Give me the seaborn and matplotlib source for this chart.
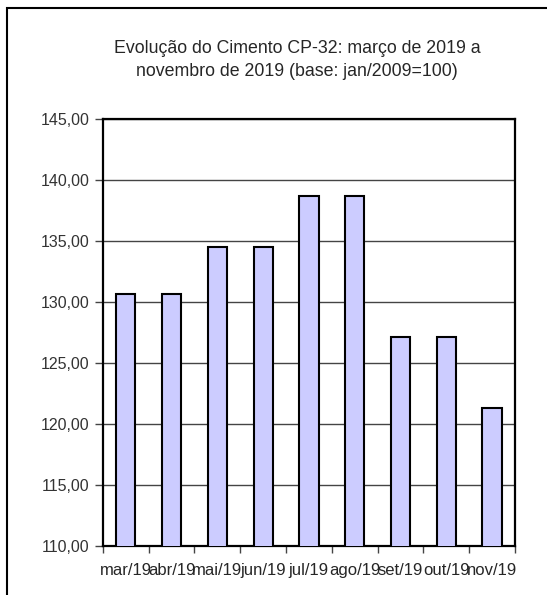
import matplotlib
matplotlib.use("Agg")
import matplotlib.pyplot as plt
import seaborn as sns
import pandas as pd
from matplotlib.patches import Rectangle
from matplotlib.ticker import FuncFormatter, FixedLocator

# dados
meses = ["mar/19", "abr/19", "mai/19", "jun/19", "jul/19", "ago/19", "set/19", "out/19", "nov/19"]
indice = [130.66, 130.66, 134.53, 134.53, 138.72, 138.72, 127.13, 127.13, 121.27]

df = pd.DataFrame({"mes": meses, "indice": indice})

sns.set_style("white")
plt.rcParams["font.family"] = ["Liberation Sans", "DejaVu Sans"]

fig = plt.figure(figsize=(5.47, 5.95), dpi=100)
ax = fig.add_axes([0.188, 0.0824, 0.7535, 0.7176])

sns.barplot(data=df, x="mes", y="indice", color="#CCCCFF", saturation=1,
            edgecolor="black", linewidth=1.5, width=0.42, ax=ax, zorder=3)

ax.set_ylim(110, 145)
ax.set_yticks([110, 115, 120, 125, 130, 135, 140, 145])
ax.yaxis.set_major_formatter(FuncFormatter(lambda v, p: f"{v:.2f}".replace(".", ",")))
ax.grid(axis="y", color="#444444", linewidth=1, zorder=0)
ax.set_axisbelow(True)
ax.set_xlim(-0.5, len(meses) - 0.5)

# ticks do eixo x nas divisas entre categorias
ax.xaxis.set_minor_locator(FixedLocator([i - 0.5 for i in range(len(meses) + 1)]))
ax.tick_params(axis="x", which="major", length=0, labelsize=12, pad=12)
ax.tick_params(axis="x", which="minor", length=5, width=1, color="#444444", direction="out", bottom=True)
ax.tick_params(axis="y", length=6, width=1, color="#444444", direction="out", left=True, labelsize=11.5, labelcolor="#333333")

for s in ax.spines.values():
    s.set_color("black")
    s.set_linewidth(1.6)

ax.set_xlabel("")
ax.set_ylabel("")

fig.text(0.543, 0.899, "Evolução do Cimento CP-32: março de 2019 a\nnovembro de 2019 (base: jan/2009=100)",
         ha="center", va="center", fontsize=12.8, linespacing=1.5)

# moldura do gráfico
fig.patches.append(Rectangle((7 / 547, -0.05), 1.1, 1 - 8 / 595 + 0.05, transform=fig.transFigure,
                             fill=False, edgecolor="black", linewidth=1.5))

fig.savefig("out.png", dpi=100)
